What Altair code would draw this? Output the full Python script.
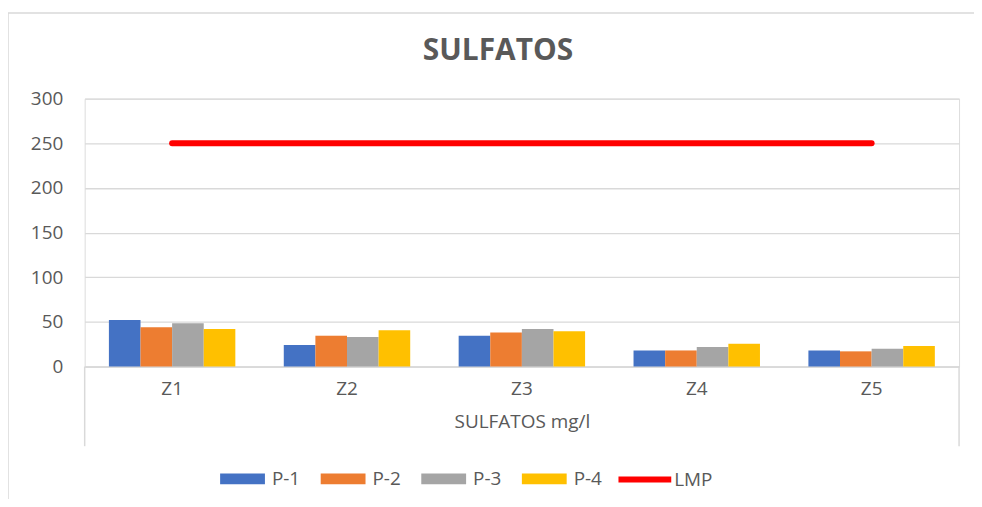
import altair as alt
import pandas as pd

zones = ["Z1", "Z2", "Z3", "Z4", "Z5"]
series = ["P-1", "P-2", "P-3", "P-4"]
p1 = [52, 24, 34.5, 18, 18]
p2 = [44, 34.5, 38, 18, 17]
p3 = [48.5, 33, 42, 22, 20]
p4 = [42, 40.5, 39.5, 25.5, 23]
lmp = [250, 250, 250, 250, 250]
bar_colors = ["#4472C4", "#ED7D31", "#A5A5A5", "#FFC000"]
y_ticks = [0, 50, 100, 150, 200, 250, 300]

rows = []
for s, vals in zip(series, [p1, p2, p3, p4]):
    for z, v in zip(zones, vals):
        rows.append({"zona": z, "serie": s, "valor": v})
bars_df = pd.DataFrame(rows)
lmp_df = pd.DataFrame({"zona": zones, "valor": lmp, "serie": ["LMP"] * len(zones)})

W, H = 878, 269
FONT = "Open Sans"
GREY = "#595959"
LINE = "#D9D9D9"

xscale = alt.Scale(domain=zones, paddingInner=0.277, paddingOuter=0.1385)
yscale = alt.Scale(domain=[0, 300])

bars = alt.Chart(bars_df).mark_bar().encode(
    x=alt.X("zona:N", scale=xscale, sort=zones,
            axis=alt.Axis(title="SULFATOS mg/l", labelAngle=0, ticks=False,
                          domainColor=LINE, domainWidth=1.5,
                          labelPadding=13, titlePadding=14,
                          labelFontSize=19, titleFontSize=19,
                          titleFontWeight="normal",
                          labelColor=GREY, titleColor=GREY,
                          labelFont=FONT, titleFont=FONT)),
    xOffset=alt.XOffset("serie:N", sort=series, scale=alt.Scale(paddingInner=0, paddingOuter=0)),
    y=alt.Y("valor:Q", scale=yscale,
            axis=alt.Axis(title=None, values=y_ticks, domain=False, ticks=False,
                          gridColor=LINE, gridWidth=1.3, labelPadding=22,
                          labelFontSize=19, labelColor=GREY, labelFont=FONT)),
    color=alt.Color("serie:N", sort=series,
                    scale=alt.Scale(domain=series, range=bar_colors),
                    legend=alt.Legend(title=None, orient="none", direction="horizontal",
                                      legendX=136, legendY=359, padding=0,
                                      symbolType="M-1,-0.24H1V0.24H-1Z", symbolSize=2025,
                                      symbolStrokeWidth=0, symbolOpacity=1,
                                      labelFontSize=19, labelColor=GREY, labelFont=FONT,
                                      labelOffset=7, columnPadding=20)),
)

line = alt.Chart(lmp_df).mark_line(strokeWidth=6, strokeCap="round").encode(
    x=alt.X("zona:N", scale=xscale, sort=zones),
    y=alt.Y("valor:Q", scale=yscale),
    stroke=alt.Stroke("serie:N",
                      scale=alt.Scale(domain=["LMP"], range=["#FF0000"]),
                      legend=alt.Legend(title=None, orient="none",
                                        legendX=533, legendY=353, padding=0,
                                        symbolType="stroke", symbolSize=2809,
                                        symbolStrokeWidth=6,
                                        labelFontSize=19, labelColor=GREY, labelFont=FONT,
                                        labelOffset=0)),
)

deco = pd.DataFrame({"k": [0]})
left_box = alt.Chart(deco).mark_rule(color=LINE, strokeWidth=1.5).encode(
    x=alt.value(0), y=alt.value(H), y2=alt.value(H + 80))
right_box = alt.Chart(deco).mark_rule(color=LINE, strokeWidth=1.5).encode(
    x=alt.value(W), y=alt.value(H), y2=alt.value(H + 80))
outer_top = alt.Chart(deco).mark_rule(color=LINE, strokeWidth=1.5).encode(
    x=alt.value(-77), x2=alt.value(900), y=alt.value(-86))
outer_left = alt.Chart(deco).mark_rule(color=LINE, strokeWidth=1.5).encode(
    x=alt.value(-77), y=alt.value(-86), y2=alt.value(420))

chart = alt.layer(bars, line, left_box, right_box, outer_top, outer_left).resolve_scale(
    color="independent", stroke="independent"
).properties(
    width=W, height=H,
    autosize=alt.AutoSizeParams(type="none"),
    padding={"left": 77, "top": 90, "right": 15, "bottom": 132},
    title=alt.TitleParams("SULFATOS", anchor="middle", font=FONT, fontSize=30,
                          fontWeight="bold", color=GREY, offset=0, dy=54, dx=-24),
).configure_view(stroke=None).configure(background="white")

chart.save("out.html", embed_options={"renderer": "svg", "actions": False})
